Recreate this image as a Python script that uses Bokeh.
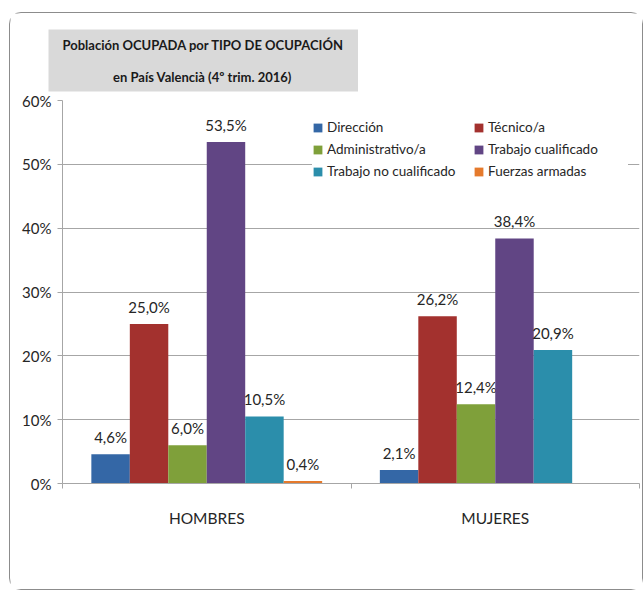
from bokeh.plotting import figure
from bokeh.models import (ColumnDataSource, Range1d, FixedTicker, PrintfTickFormatter,
                          Legend, LegendItem, Title)
from bokeh.core.properties import value
from bokeh.embed import file_html
from bokeh.resources import INLINE
import math

# ---- data ----
categories = ["HOMBRES", "MUJERES"]
series = ["Dirección", "Técnico/a", "Administrativo/a",
          "Trabajo cualificado", "Trabajo no cualificado", "Fuerzas armadas"]
hombres = [4.6, 25.0, 6.0, 53.5, 10.5, 0.4]
mujeres = [2.1, 26.2, 12.4, 38.4, 20.9, float("nan")]
y_ticks = [0, 10, 20, 30, 40, 50, 60]
title_line1 = "Población OCUPADA por TIPO DE OCUPACIÓN"
title_line2 = "en País Valencià (4º trim. 2016)"

colors = ["#3467a6", "#a3312e", "#7fa03a", "#614584", "#2b8eab", "#e57a2c"]

FONT = "Lato"
TXT = "#262626"
GRID = "#a6a6a6"

p = figure(frame_width=577, frame_height=383, output_backend="svg", toolbar_location=None,
           x_range=Range1d(0, len(categories)), y_range=Range1d(0, 60),
           min_border_left=52, min_border_right=3, min_border_top=87,
           min_border_bottom=106,
           styles={"border": "1px solid #8c8c8c", "border-radius": "12px",
                   "margin-left": "9px", "margin-top": "12px"})
p.outline_line_color = None
p.xgrid.visible = False
p.ygrid.grid_line_color = GRID
p.ygrid.ticker = FixedTicker(ticks=y_ticks)

ya = p.yaxis[0]
ya.ticker = FixedTicker(ticks=y_ticks)
ya.formatter = PrintfTickFormatter(format="%d%%")
ya.axis_line_color = GRID
ya.major_tick_line_color = GRID
ya.major_tick_in = 0
ya.major_tick_out = 5
ya.minor_tick_line_color = None
ya.major_label_text_font = FONT
ya.major_label_text_font_size = "15px"
ya.major_label_text_color = TXT
ya.major_label_standoff = 6

xa = p.xaxis[0]
centers = [i + 0.5 for i in range(len(categories))]
xa.ticker = FixedTicker(ticks=centers, minor_ticks=list(range(len(categories) + 1)))
xa.major_label_overrides = {c: n for c, n in zip(centers, categories)}
xa.axis_line_color = GRID
xa.major_tick_line_color = None
xa.major_tick_in = 0
xa.major_tick_out = 0
xa.minor_tick_line_color = GRID
xa.minor_tick_in = 0
xa.minor_tick_out = 5
xa.major_label_text_font = FONT
xa.major_label_text_font_size = "15.5px"
xa.major_label_text_color = TXT
xa.major_label_standoff = 20

n = len(series)
group_w = 0.8
bw = group_w / n
items = []
for k, name in enumerate(series):
    off = -group_w / 2 + bw * (k + 0.5)
    vals = [hombres[k], mujeres[k]]
    xs = [c + off for c in centers]
    labels = ["" if (v is None or math.isnan(v)) else f"{v:.1f}%".replace(".", ",") for v in vals]
    src = ColumnDataSource(dict(x=xs, top=vals, lab=labels))
    r = p.vbar(x="x", top="top", width=bw, source=src, fill_color=colors[k], line_color=None)
    p.text(x="x", y="top", text="lab", source=src, text_align="center",
           text_baseline="bottom", y_offset=-8, text_font=value(FONT),
           text_font_size="15px", text_color=TXT)
    items.append(LegendItem(label=name, renderers=[r]))

# legend kept inside the plot frame (free upper-right area)
legend = Legend(items=items, orientation="horizontal", ncols=2,
                location=(250, 304), padding=7, margin=0, spacing=6,
                glyph_width=11, glyph_height=11, label_width=140, label_height=16,
                label_standoff=4, border_line_color=None,
                background_fill_color="white", background_fill_alpha=1.0,
                label_text_font=FONT, label_text_font_size="13.5px",
                label_text_color=TXT)
p.add_layout(legend, "center")

pad_line2 = "\u00a0" * 16
title = Title(text=title_line1 + "\n" + pad_line2 + title_line2, align="left", offset=-14,
              standoff=18, text_font=FONT, text_font_style="bold",
              text_font_size="13px", text_color="#1a1a1a", text_line_height=2.0,
              background_fill_color="#d9d9d9", padding=(14, 7))
p.add_layout(title, "above")

open("out.html", "w").write(file_html(p, INLINE))
